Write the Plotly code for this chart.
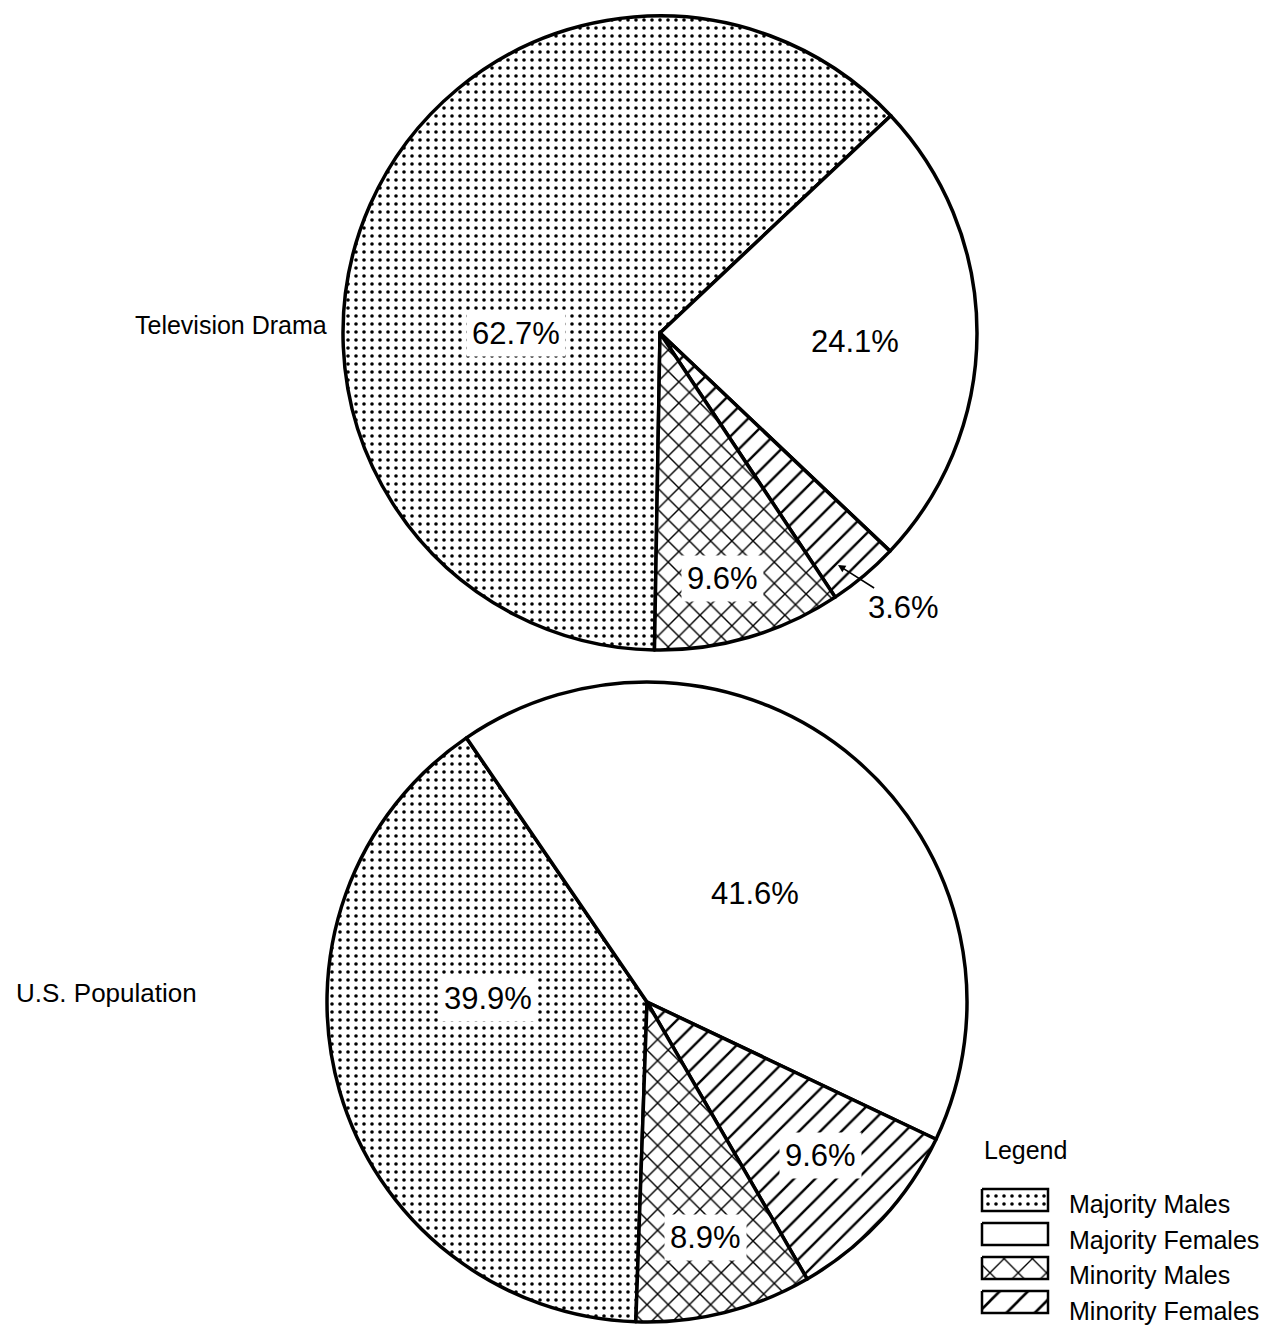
import plotly.graph_objects as go

# Population groups, listed clockwise from the 6 o'clock position
groups = ["Majority Males", "Majority Females", "Minority Females", "Minority Males"]
tv_drama = [62.7, 24.1, 3.6, 9.6]
us_population = [39.9, 41.6, 9.6, 8.9]

# Legend order as printed
legend_groups = ["Majority Males", "Majority Females", "Minority Males", "Minority Females"]

W, H = 1273, 1327
FONT = "Liberation Sans, Arial, Helvetica, sans-serif"

# fill pattern per group
PATTERNS = {
    "Majority Males": dict(shape=".", size=8, solidity=0.16),
    "Majority Females": dict(shape="", size=8, solidity=0.1),
    "Minority Males": dict(shape="x", size=15, solidity=0.18),
    "Minority Females": dict(shape="/", size=15, solidity=0.16),
}


def px(x):
    return x / W


def py(y):
    return 1 - y / H


def pie_trace(values, cx, cy, r, rotation, name):
    return go.Pie(
        labels=groups,
        values=values,
        name=name,
        sort=False,
        direction="clockwise",
        rotation=rotation,
        textinfo="none",
        hoverinfo="label+percent",
        showlegend=False,
        domain=dict(x=[px(cx - r), px(cx + r)], y=[py(cy + r), py(cy - r)]),
        marker=dict(
            colors=["white"] * 4,
            line=dict(color="black", width=3.5),
            pattern=dict(
                shape=[PATTERNS[g]["shape"] for g in groups],
                size=[PATTERNS[g]["size"] for g in groups],
                solidity=[PATTERNS[g]["solidity"] for g in groups],
                fgcolor="black",
                bgcolor="white",
                fgopacity=1,
                fillmode="overlay",
            ),
        ),
    )


fig = go.Figure()
fig.add_trace(pie_trace(tv_drama, 660, 333, 317, 181, "Television Drama"))
fig.add_trace(pie_trace(us_population, 647, 1002, 320, 182, "U.S. Population"))

# Legend swatches drawn on a hidden pixel-space axis
SWATCH = {
    "Majority Males": dict(shape=".", size=8, solidity=0.16),
    "Majority Females": dict(shape="", size=8, solidity=0.1),
    "Minority Males": dict(shape="x", size=20, solidity=0.13),
    "Minority Females": dict(shape="/", size=20, solidity=0.13),
}
box_x0, box_w, box_h, box_top, box_step = 982, 66, 22, 1189, 34
text_top, text_step = 1204, 35.7
for i, g in enumerate(legend_groups):
    y0 = box_top + i * box_step
    fig.add_trace(go.Scatter(
        x=[box_x0, box_x0 + box_w, box_x0 + box_w, box_x0, box_x0],
        y=[y0, y0, y0 + box_h, y0 + box_h, y0],
        mode="lines",
        fill="toself",
        fillcolor="white",
        fillpattern=dict(fgcolor="black", bgcolor="white", fgopacity=1,
                         fillmode="overlay", **SWATCH[g]),
        line=dict(color="black", width=2.5),
        hoverinfo="skip",
        showlegend=False,
    ))

annotations = []


def label(text, x, y, box=True, size=31, **kw):
    a = dict(
        text=text, x=px(x), y=py(y), xref="paper", yref="paper",
        xanchor="center", yanchor="middle",
        showarrow=False, font=dict(family=FONT, size=size, color="black"),
    )
    if box:
        a.update(bgcolor="white", borderpad=5)
    a.update(kw)
    annotations.append(a)


def pct(v):
    return f"{v:.1f}%"


# Television Drama slice labels
label(pct(tv_drama[0]), 516, 333)
label(pct(tv_drama[1]), 855, 342)
label(pct(tv_drama[3]), 722, 578)
annotations.append(dict(
    text=pct(tv_drama[2]), x=px(838), y=py(565), xref="paper", yref="paper",
    ax=66, ay=42, showarrow=True, arrowhead=2, arrowsize=1, arrowwidth=1.5,
    arrowcolor="black", standoff=0,
    font=dict(family=FONT, size=31, color="black"),
))

# U.S. Population slice labels
label(pct(us_population[1]), 755, 893)
label(pct(us_population[0]), 488, 998)
label(pct(us_population[2]), 820, 1155)
label(pct(us_population[3]), 705, 1237)

# Row titles
label("Television Drama", 133, 325, box=False, size=25, xanchor="left")
label("U.S. Population", 14, 993, box=False, size=26, xanchor="left")

# Legend title and entries
label("Legend", 982, 1150, box=False, size=25, xanchor="left")
for i, g in enumerate(legend_groups):
    label(g, 1067, text_top + i * text_step, box=False, size=25, xanchor="left")

fig.update_layout(
    width=W,
    height=H,
    margin=dict(l=0, r=0, t=0, b=0),
    paper_bgcolor="white",
    plot_bgcolor="rgba(0,0,0,0)",
    showlegend=False,
    xaxis=dict(range=[0, W], visible=False, domain=[0, 1], fixedrange=True),
    yaxis=dict(range=[H, 0], visible=False, domain=[0, 1], fixedrange=True),
    annotations=annotations,
)

fig.write_html("out.html")
